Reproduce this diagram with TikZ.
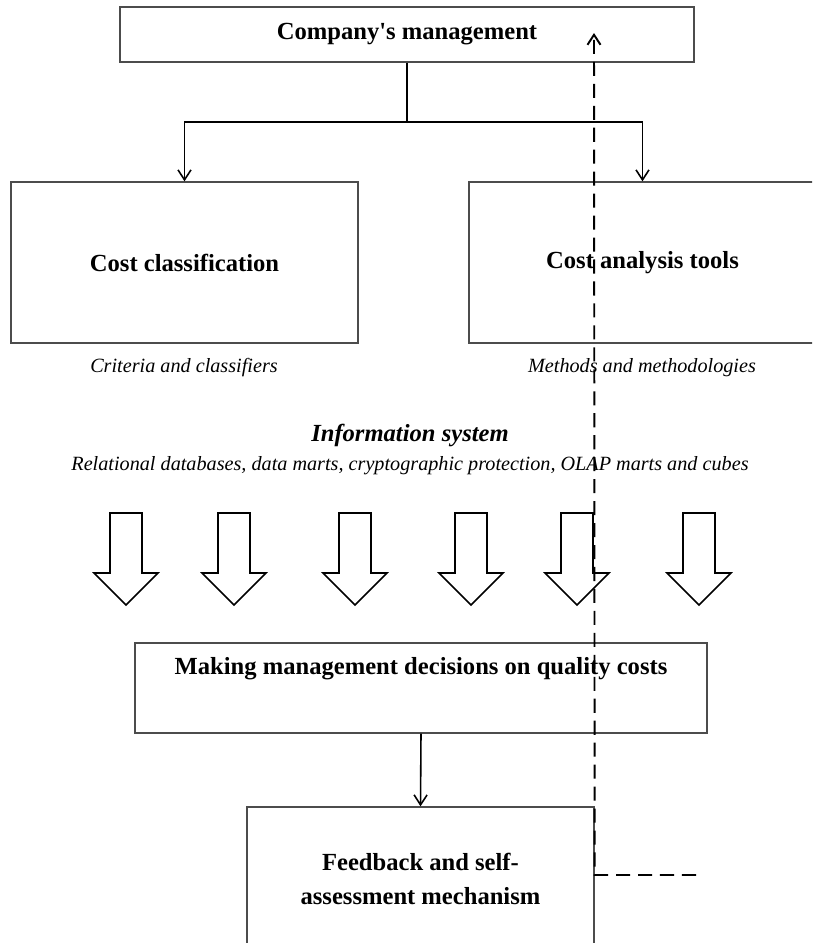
\documentclass[tikz,border=0pt]{standalone}
\usepackage{fontspec}
\setmainfont{Liberation Serif}
\usetikzlibrary{arrows.meta}

\begin{document}
\begin{tikzpicture}[
  x=0.02cm, y=-0.02cm,
  box/.style={draw=black!70, line width=0.8pt, font=\fontsize{14}{19.5}\selectfont\bfseries, inner sep=2pt},
  wide/.style={box, minimum width=11.48cm, minimum height=1.1cm},
  half/.style={box, minimum width=6.94cm, minimum height=3.22cm},
  note/.style={font=\fontsize{11.5}{13}\selectfont\itshape, inner sep=0pt},
  arr/.style={-{Straight Barb[length=2mm,width=2.6mm]}, line width=0.9pt},
  hollow/.style={draw, line width=0.9pt, fill=white, line join=miter},
  back/.style={arr, dash pattern=on 8pt off 4.5pt, line width=1.1pt}
]
  \useasboundingbox (0,0) rectangle (812,943);
  \clip (0,0) rectangle (812,943);

  % Management and its two branches
  \node[wide] (mgmt) at (407,34.5) {Company\textquotesingle s management};
  \node[half] (class) at (184.5,262.5) {Cost classification};
  \node[half] (tools) at (642.5,262.5) {Cost analysis tools};
  \coordinate (split) at (407,122);
  \draw[line width=0.9pt] (mgmt.south) -- (split);
  \draw[arr] (split) -| (class.north);
  \draw[arr] (split) -| (tools.north);
  \node[note] (crit) at (184,368) {Criteria and classifiers};
  \node[note] (meth) at (642,368) {Methods and methodologies};

  % Information system
  \node[note, font=\fontsize{14}{16}\selectfont\bfseries\itshape] (info) at (410,435) {Information system};
  \node[note] (tech) at (410,466) {Relational databases, data marts, cryptographic protection, OLAP marts and cubes};
  \foreach \x in {126,234,355,471,577,699}
    \draw[hollow] (\x-16,513) -- ++(32,0) -- ++(0,60) -- ++(16,0) -- ++(-32,32) -- ++(-32,-32) -- ++(16,0) -- cycle;

  % Decisions and feedback
  \node[wide, minimum width=11.44cm, minimum height=1.8cm, text depth=0.88cm] (decide) at (421,688) {Making management decisions on quality costs};
  \node[half, minimum height=2.88cm, align=center] (feed) at (420.5,879) {Feedback and self-\\assessment mechanism};
  \draw[arr] (decide.south) -- (feed.north);
  \coordinate (loopend) at (696,875);
  \coordinate (looptop) at (594,33);
  \draw[back] (loopend) -- (loopend -| feed.east) -- (looptop);
\end{tikzpicture}
\end{document}
